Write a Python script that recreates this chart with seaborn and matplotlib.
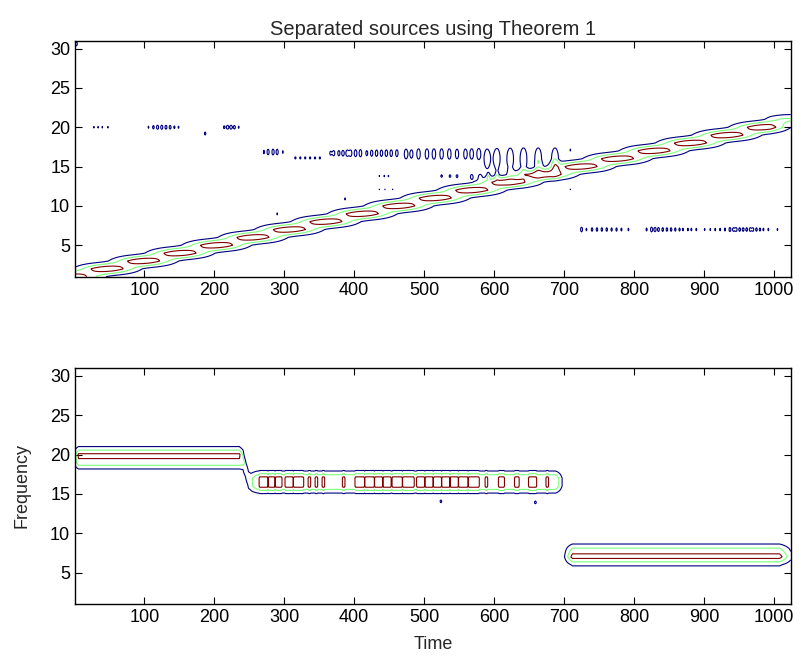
import numpy as np
import matplotlib
matplotlib.use("Agg")
import matplotlib.pyplot as plt
import seaborn as sns

# ---------------- data ----------------
# top panel: linear chirp, instantaneous-frequency knots (time, bin)
chirp_t = [0, 1024]
chirp_f = [1.1, 20.75]
chirp_amp_t = [0, 995, 1024]
chirp_amp = [1.0, 1.0, 0.6]
chirp_width = 0.58

# top panel: cross-term residues, one row per frequency line
xt20a_t = [28, 34, 40, 48]
xt20b_t = [106, 113, 119, 125, 131, 137, 143, 149]
xt20b_a = [0.27, 0.30, 0.33, 0.33, 0.32, 0.31, 0.28, 0.27]
xt20c_t = [214, 219, 224, 229, 235]
xt20c_a = [0.28, 0.31, 0.31, 0.30, 0.27]
xt17a_t = [271, 277, 284, 290, 298]
xt17a_a = [0.28, 0.34, 0.35, 0.34, 0.27]
xt16_t = [316, 323, 330, 337, 344, 351]
xt17b_t = [366, 371, 378, 384, 390, 395, 402, 409, 418, 425, 432, 439, 446, 453, 461]
xt17b_a = [0.27, 0.30, 0.31, 0.32, 0.33, 0.34, 0.37, 0.38, 0.31, 0.34, 0.35, 0.35, 0.36, 0.36, 0.37]
xt17c_t = [474, 482, 492, 504, 514, 525, 536, 547, 559, 568, 578]
xt17c_a = [0.37, 0.33, 0.39, 0.39, 0.39, 0.39, 0.39, 0.37, 0.38, 0.39, 0.41]
xt17d_t = [590, 604, 623, 642, 663, 687]
xt17d_a = [0.42, 0.45, 0.47, 0.48, 0.48, 0.48]
xt14_t = [436, 443, 449, 525, 537, 547, 568, 580, 592, 604]
xt14_a = [0.26, 0.26, 0.26, 0.29, 0.29, 0.29, 0.30, 0.31, 0.31, 0.32]
xt12_t = [436, 444, 455, 709]
xt7_t = [725, 732, 740, 747, 754, 761, 768, 775, 782, 792,
         818, 825, 830, 835, 841, 847, 853, 859, 865, 870, 877, 882, 889,
         901, 909, 916, 923, 930, 937, 942, 946, 951, 956, 961, 966, 970,
         975, 980, 985, 992, 1005]
xt7_a = [0.36, 0.28, 0.31, 0.31, 0.31, 0.31, 0.30, 0.30, 0.29, 0.28,
         0.29, 0.36, 0.34, 0.33, 0.32, 0.31, 0.31, 0.30, 0.29, 0.28, 0.28, 0.28, 0.28,
         0.27, 0.27, 0.28, 0.28, 0.29, 0.33, 0.30, 0.31, 0.31, 0.31, 0.31, 0.30, 0.30,
         0.30, 0.29, 0.28, 0.28, 0.27]
odd_t = [3, 187, 290, 387, 709]
odd_f = [30.6, 19.2, 9.0, 10.9, 17.1]
odd_a = [0.36, 0.31, 0.27, 0.27, 0.27]

# bottom panel: source 1 (step 20 -> 16.5), source 2 (bin 7)
src1_ft = [0, 236, 241, 245, 249, 253, 700]
src1_f = [19.61, 19.61, 19.3, 18.05, 16.8, 16.5, 16.5]
src1_at = [-4, 6, 236, 244, 252, 262, 688, 702]
src1_a = [0, 0.89, 0.89, 0.5, 0.5, 0.86, 0.86, 0]
# stretches of the 16.5 line where its peak rises above the top contour
src1_red_start = [265, 278, 288, 302, 314, 335, 345, 355, 384, 402, 416, 430, 442,
                  455, 470, 490, 502, 514, 526, 538, 550, 564, 588, 607, 630, 650, 675]
src1_red_end = [276, 286, 296, 312, 327, 337, 347, 357, 386, 414, 428, 440, 452,
                468, 485, 500, 512, 524, 536, 548, 562, 578, 590, 614, 635, 660, 677]
src1_red_amp = 1.0
src2_ft = [700, 1024]
src2_f = [7.2, 7.2]
src2_at = [696, 712, 1008, 1034]
src2_a = [0, 0.9, 0.9, 0]
stray_t = [524, 659]
stray_f = [14.0, 13.9]
stray_a = [0.27, 0.29]

levels = [0.25, 0.5, 0.75]

# ---------------- grids ----------------
t = np.arange(1, 1025)
bins = np.arange(1, 32)
f = np.arange(1, 31.001, 0.1)
T, F = np.meshgrid(t, f)


def ridge(ft, fv, amp, width):
    # energy on integer frequency bins, linear between bins (like the plotted TFD)
    f0 = np.interp(t, ft, fv)
    g = amp * np.exp(-(bins[:, None] - f0[None, :]) ** 2 / (2 * width ** 2))
    i = np.clip(np.floor(f - 1).astype(int), 0, len(bins) - 2)
    w = (f - 1 - i)[:, None]
    return (1 - w) * g[i] + w * g[i + 1]


def blobs(times, freq, amps, sf, st):
    z = np.zeros_like(T, dtype=float)
    freq = np.broadcast_to(freq, (len(times),))
    amps = np.broadcast_to(amps, (len(times),))
    for ti, fi, ai in zip(times, freq, amps):
        z += ai * np.exp(-(T - ti) ** 2 / (2 * st ** 2) - (F - fi) ** 2 / (2 * sf ** 2))
    return z


amp_top = np.interp(t, chirp_amp_t, chirp_amp)
Z_top = ridge(chirp_t, chirp_f, amp_top, chirp_width)
Z_top += blobs(xt20a_t, 20.0, 0.27, 0.25, 1.5)
Z_top += blobs(xt20b_t, 20.0, xt20b_a, 0.35, 1.8)
Z_top += blobs(xt20c_t, 20.0, xt20c_a, 0.35, 1.8)
Z_top += blobs(xt17a_t, 16.85, xt17a_a, 0.45, 1.8)
Z_top += blobs(xt16_t, 16.1, 0.29, 0.25, 1.8)
Z_top += blobs(xt17b_t, 16.7, xt17b_a, 0.5, 2.0)
Z_top += blobs(xt17c_t, 16.6, xt17c_a, 0.7, 2.6)
Z_top += blobs(xt17d_t, 16.0, xt17d_a, 1.2, 4.2)
Z_top += blobs(xt14_t, 13.8, xt14_a, 0.3, 2.0)
Z_top += blobs(xt12_t, 12.1, 0.26, 0.2, 1.5)
Z_top += blobs(xt7_t, 7.0, xt7_a, 0.35, 1.6)
Z_top += blobs(odd_t, odd_f, odd_a, 0.3, 1.5)

amp1 = np.interp(t, src1_at, src1_a)
for a, b in zip(src1_red_start, src1_red_end):
    amp1[(t >= a) & (t <= b)] = src1_red_amp
amp2 = np.interp(t, src2_at, src2_a)
Z_bot = ridge(src1_ft, src1_f, amp1, 0.875)
Z_bot += ridge(src2_ft, src2_f, amp2, 0.8)
Z_bot += blobs(stray_t, stray_f, stray_a, 0.25, 2.0)

# ---------------- figure ----------------
sns.set_style("ticks")
plt.rcParams["font.family"] = ["Liberation Sans", "DejaVu Sans"]
plt.rcParams["font.size"] = 13

fig = plt.figure(figsize=(8.04, 6.66), dpi=100)
ax1 = fig.add_axes([0.0933, 0.5845, 0.8902, 0.3544])
ax2 = fig.add_axes([0.0933, 0.0931, 0.8902, 0.3544])

for ax, Z in [(ax1, Z_top), (ax2, Z_bot)]:
    ax.contour(T, F, Z, levels=levels, cmap="jet", linewidths=0.8)
    ax.set_xlim(1, 1024)
    ax.set_ylim(1, 31)
    ax.set_xticks(range(100, 1001, 100))
    ax.set_yticks(range(5, 31, 5))
    ax.tick_params(direction="in", top=True, right=True, length=5, width=0.8,
                   labelsize=13, colors="black")
    for sp in ax.spines.values():
        sp.set_visible(True)
        sp.set_linewidth(1.0)
        sp.set_color("black")

ax1.set_title("Separated sources using Theorem 1", fontsize=14.5, pad=4)
ax2.set_xlabel("Time", fontsize=13, labelpad=7)
ax2.set_ylabel("Frequency", fontsize=13, labelpad=14)

fig.savefig("out.png", dpi=100)
